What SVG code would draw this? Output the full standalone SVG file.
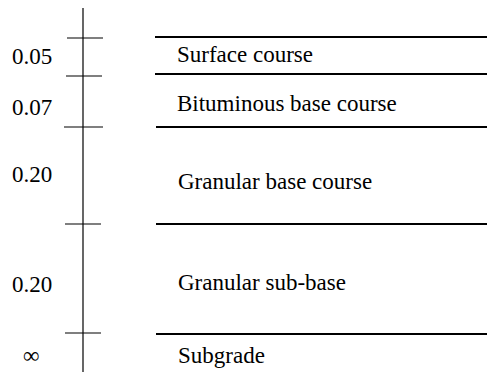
<svg xmlns="http://www.w3.org/2000/svg" width="487" height="374" viewBox="0 0 487 374">
<style>
.ln{stroke:#000;stroke-width:1.2;fill:none}
.lay{stroke:#000;stroke-width:2;fill:none}
.t{font-size:23px;fill:#000}
</style>
<rect width="487" height="374" fill="#fff"/>
<g id="axis" font-family="'Liberation Serif', 'Times New Roman', Tinos, 'DejaVu Serif', serif">
<line class="ln" x1="83" y1="8" x2="83" y2="372"/>
<line class="ln" x1="67" y1="38" x2="103" y2="38"/>
<line class="ln" x1="66" y1="76" x2="102" y2="76"/>
<line class="ln" x1="64" y1="127" x2="103" y2="127"/>
<line class="ln" x1="65" y1="224" x2="101" y2="224"/>
<line class="ln" x1="65" y1="333" x2="101" y2="333"/>
<text class="t" x="12" y="64">0.05</text>
<text class="t" x="12" y="115">0.07</text>
<text class="t" x="12" y="182">0.20</text>
<text class="t" x="12" y="292">0.20</text>
<text class="t" x="23" y="363" font-size="22">∞</text>
</g>
<g id="layers">
<line class="lay" x1="155" y1="37" x2="487" y2="37"/>
<line class="lay" x1="155" y1="74" x2="487" y2="74"/>
<line class="lay" x1="156" y1="127" x2="487" y2="127"/>
<line class="lay" x1="156" y1="224" x2="487" y2="224"/>
<line class="lay" x1="156" y1="334" x2="487" y2="334"/>
</g>
<g font-family="'Liberation Serif', 'Times New Roman', Tinos, 'DejaVu Serif', serif">
<g id="surface"><text class="t" x="177" y="62">Surface course</text></g>
<g id="bituminous"><text class="t" x="177" y="111">Bituminous base course</text></g>
<g id="granular-base"><text class="t" x="178" y="189">Granular base course</text></g>
<g id="granular-sub"><text class="t" x="178" y="290">Granular sub-base</text></g>
<g id="subgrade"><text class="t" x="178" y="363">Subgrade</text></g>
</g>
</svg>
